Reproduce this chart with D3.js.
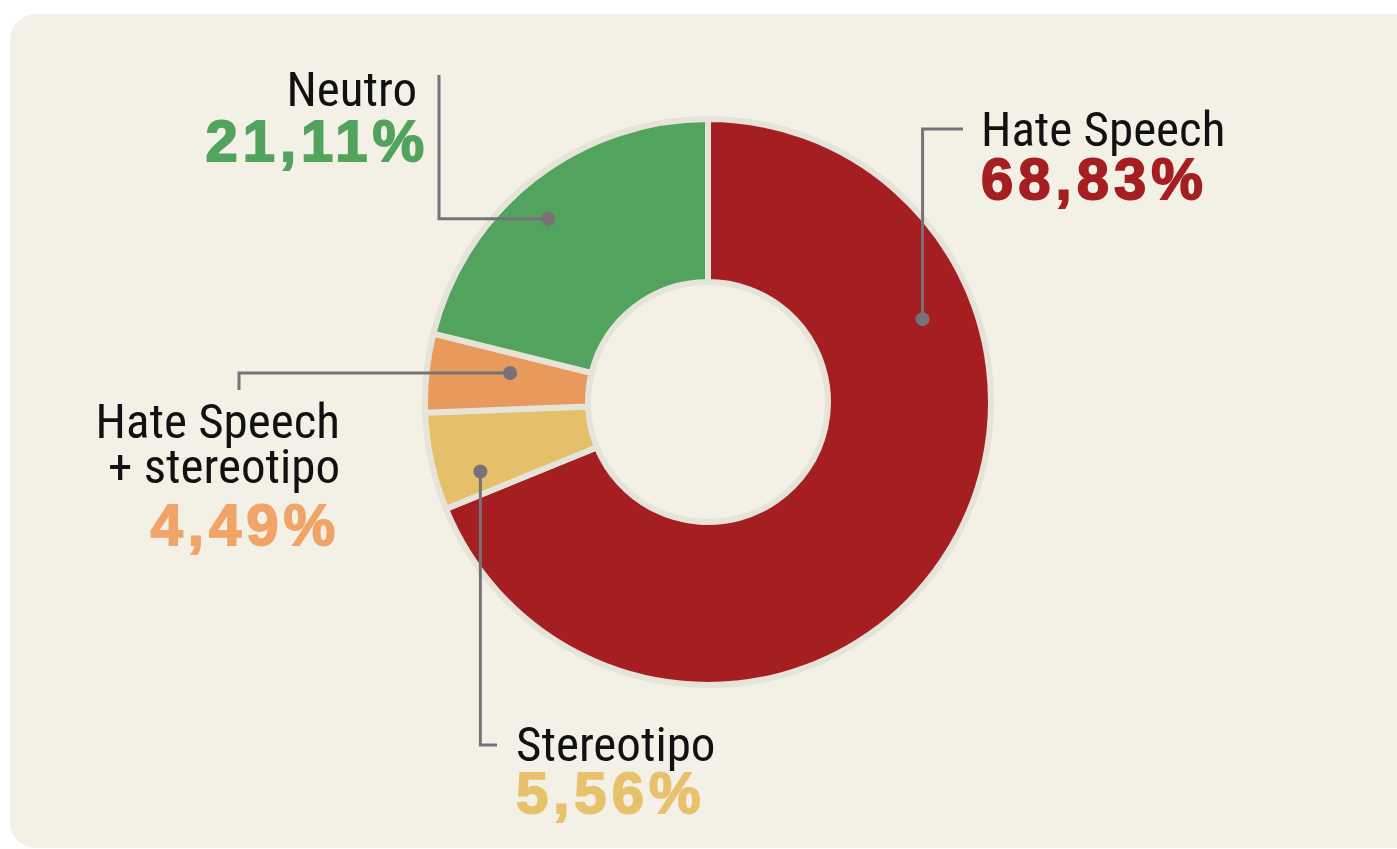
<!DOCTYPE html>
<html lang="it">
<head>
<meta charset="utf-8">
<title>Hate speech – distribuzione</title>
<script src="https://cdn.jsdelivr.net/npm/d3@7"></script>
<style>
  html, body { margin: 0; padding: 0; background: #ffffff; }
  svg { display: block; }
  .lbl { font-family: "Liberation Sans Narrow", "Arial Narrow", "Roboto Condensed", sans-serif; fill: #111; }
  .pct { font-family: "Liberation Sans", Arial, sans-serif; font-weight: 700; }
</style>
</head>
<body>
<svg id="chart" width="1397" height="849"></svg>
<script>
// Categories and their shares (%)
const categories = ["Hate Speech", "Stereotipo", "Hate Speech + stereotipo", "Neutro"];
const values = [68.83, 5.56, 4.49, 21.11];
const valueLabels = ["68,83%", "5,56%", "4,49%", "21,11%"];
const nameLines = [["Hate Speech"], ["Stereotipo"], ["Hate Speech", "+ stereotipo"], ["Neutro"]];
const sliceColors = ["#a51f22", "#e5bf6a", "#e89a5c", "#52a35d"];
const pctColors = ["#a51f22", "#e8c16c", "#f0a467", "#52a35d"];

const svg = d3.select("#chart");

// Panel background
svg.append("rect")
  .attr("x", 10).attr("y", 14)
  .attr("width", 1410).attr("height", 834)
  .attr("rx", 26).attr("ry", 26)
  .attr("fill", "#f3f0e6");

const cx = 708, cy = 402;
const rim = "#e6e3d9";
const g = svg.append("g").attr("transform", `translate(${cx},${cy})`);

const pie = d3.pie().sort(null).value(d => d.value).startAngle(0).endAngle(2 * Math.PI);
const data = categories.map((c, i) => ({ name: c, value: values[i], i }));
const arcs = pie(data);

const arc = d3.arc().innerRadius(120).outerRadius(283);

g.selectAll("path.slice")
  .data(arcs)
  .join("path")
  .attr("class", "slice")
  .attr("d", arc)
  .attr("fill", d => sliceColors[d.data.i])
  .attr("stroke", rim)
  .attr("stroke-width", 6)
  .attr("stroke-linejoin", "miter");

// Leader lines: dot inside the slice (angle fraction within slice, radius),
// elbow point, and end point near the label
const leaders = [
  { frac: 0.278, r: 230, path: (p) => [p, [p[0], 129 - cy], [963 - cx, 129 - cy]] },
  { frac: 0.26, r: 238, path: (p) => [p, [p[0], 745 - cy], [497 - cx, 745 - cy]] },
  { frac: 0.65, r: 200, path: (p) => [p, [239 - cx, p[1]], [239 - cx, 390 - cy]] },
  { frac: 0.46, r: 243, path: (p) => [p, [439 - cx, p[1]], [439 - cx, 75 - cy]] }
];

const lineColor = "#77727a";
arcs.forEach((a, k) => {
  const L = leaders[k];
  const ang = a.startAngle + (a.endAngle - a.startAngle) * L.frac;
  const p = [L.r * Math.sin(ang), -L.r * Math.cos(ang)];
  g.append("path")
    .attr("d", d3.line()(L.path(p)))
    .attr("fill", "none")
    .attr("stroke", lineColor)
    .attr("stroke-width", 3);
  g.append("circle")
    .attr("cx", p[0]).attr("cy", p[1]).attr("r", 7)
    .attr("fill", lineColor);
});

// Text labels: anchor x, first baseline, alignment, percentage position
const labelPos = [
  { x: 981, y: 146, anchor: "start", pctX: 981, pctY: 199 },
  { x: 516, y: 761, anchor: "start", pctX: 516, pctY: 813 },
  { x: 340, y: 438, anchor: "end", pctX: 340, pctY: 545 },
  { x: 417, y: 106, anchor: "end", pctX: 429, pctY: 161 }
];
const lineH = 45;

// Each label is one text block: name line(s) followed by the percentage
categories.forEach((c, i) => {
  const P = labelPos[i];
  const t = svg.append("text").attr("text-anchor", P.anchor);
  nameLines[i].forEach((s, j) => {
    t.append("tspan")
      .attr("class", "lbl")
      .attr("x", P.x).attr("y", P.y + j * lineH)
      .attr("font-size", 49)
      .text(s);
  });
  t.append("tspan")
    .attr("class", "pct")
    .attr("x", P.pctX)
    .attr("y", P.pctY)
    .attr("font-size", 58)
    .attr("letter-spacing", 5)
    .attr("fill", pctColors[i])
    .attr("stroke", pctColors[i])
    .attr("stroke-width", 1.8)
    .text(valueLabels[i]);
});
</script>
</body>
</html>
